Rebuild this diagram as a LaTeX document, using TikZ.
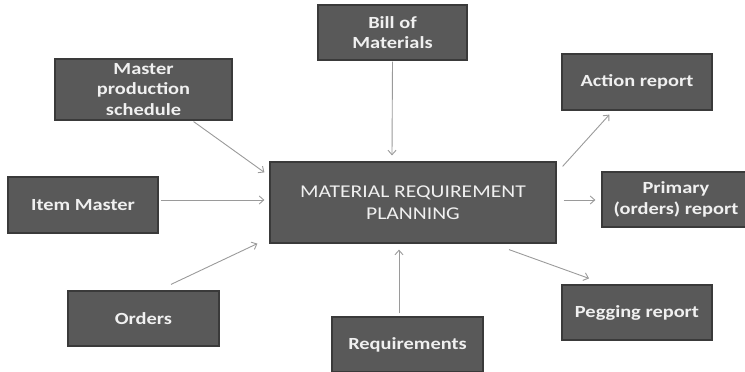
\documentclass[tikz,border=0pt]{standalone}
\usepackage{fontspec}
\setmainfont{Carlito}[FakeStretch=1.2]
\usetikzlibrary{arrows.meta}
\definecolor{boxfill}{HTML}{595959}
\definecolor{boxline}{HTML}{3A3A3A}
\definecolor{boxtext}{HTML}{F0F0F0}
\definecolor{arrowgray}{HTML}{9A9A9A}
\begin{document}
\begin{tikzpicture}[x=1pt,y=-1pt,
  box/.style={draw=boxline,line width=1.2pt,fill=boxfill,text=boxtext,
    align=center,inner sep=0pt,font=\fontsize{17}{20.5}\selectfont\bfseries},
  arr/.style={draw=arrowgray,line width=0.9pt,
    -{Straight Barb[length=4.5pt,width=8pt,line width=0.9pt]}}]
\useasboundingbox (0,0) rectangle (745,372);
% boxes
\node[box,minimum width=149pt,minimum height=55pt] (bom) at (392.5,32.5) {Bill of\\Materials};
\node[box,minimum width=177pt,minimum height=61pt] (mps) at (143.5,89.5) {Master\\production\\schedule};
\node[box,minimum width=150pt,minimum height=56pt] (item) at (83,205) {Item Master};
\node[box,minimum width=151pt,minimum height=55pt] (orders) at (143.5,318.5) {Orders};
\node[box,minimum width=286pt,minimum height=81pt,
  font=\fontsize{18}{21.5}\selectfont] (mrp) at (413,202.5) {MATERIAL REQUIREMENT\\PLANNING};
\node[box,minimum width=151pt,minimum height=55pt] (req) at (407.5,344.5) {Requirements};
\node[box,minimum width=150pt,minimum height=56pt] (action) at (637,82) {Action report};
\node[box,minimum width=148pt,minimum height=55pt] (primary) at (676,199.5) {Primary\\(orders) report};
\node[box,minimum width=150pt,minimum height=55pt] (pegging) at (637,312.5) {Pegging report};
% inputs to the planning run
\draw[arr] ([xshift=-39pt,yshift=-1pt]mps.south east) -- ([xshift=-5pt,yshift=-11pt]mrp.north west);
\draw[arr] ([xshift=2pt,yshift=5pt]item.east) -- ([xshift=-5pt,yshift=2.5pt]mrp.west);
\draw[arr] ([xshift=27.5pt,yshift=6pt]orders.north) -- ([xshift=-12pt]mrp.south west);
\draw[arr] ([yshift=-1pt]bom.south) -- ([xshift=-21pt,yshift=6pt]mrp.north);
\draw[arr] ([xshift=-8.5pt,yshift=3pt]req.north) -- ([xshift=-14pt,yshift=-6pt]mrp.south);
% outputs (reports)
\draw[arr] ([xshift=6pt,yshift=-5pt]mrp.north east) -- ([xshift=48pt,yshift=-4pt]action.south west);
\draw[arr] ([xshift=7pt,yshift=2.5pt]mrp.east) -- ([xshift=-6pt,yshift=-0.5pt]primary.west);
\draw[arr] ([xshift=96pt,yshift=-6pt]mrp.south) -- ([xshift=-48pt,yshift=6pt]pegging.north);
\end{tikzpicture}
\end{document}
